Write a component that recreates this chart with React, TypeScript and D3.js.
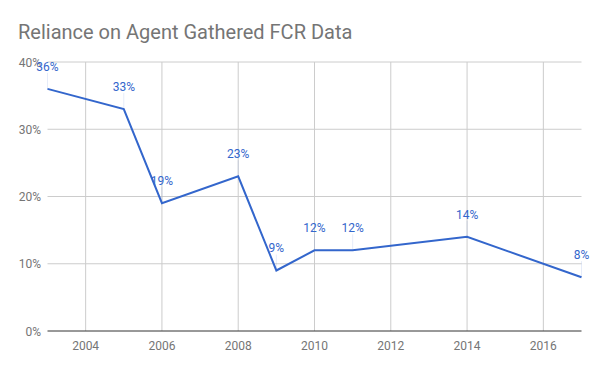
import React from "react";
import * as d3 from "d3";

const years = [2003, 2005, 2006, 2008, 2009, 2010, 2011, 2014, 2017];
const values = [36, 33, 19, 23, 9, 12, 12, 14, 8];
const xTicks = [2004, 2006, 2008, 2010, 2012, 2014, 2016];
const yTicks = [0, 10, 20, 30, 40];
const title = "Reliance on Agent Gathered FCR Data";

const W = 600;
const H = 371;
const font = "Roboto, 'Noto Sans', Arial, sans-serif";

export default function App() {
  const x = d3.scaleLinear().domain([2003, 2017]).range([47.5, 581.5]);
  const y = d3.scaleLinear().domain([0, 40]).range([331, 62]);
  const line = d3
    .line<number>()
    .x((_, i) => x(years[i]))
    .y((d) => y(d));

  return (
    <svg
      width={W}
      height={H}
      style={{ position: "absolute", left: 0, top: 0, background: "#fff" }}
      fontFamily={font}
    >
      <rect width={W} height={H} fill="#fff" />
      <text x={18} y={39} fontSize={20} fill="#757575">
        {title}
      </text>
      {yTicks.map((t) => (
        <g key={"y" + t}>
          {t !== 0 && (
            <line x1={x(2003)} x2={x(2017)} y1={y(t)} y2={y(t)} stroke="#cccccc" strokeWidth={1} />
          )}
          <text x={41} y={y(t) + 4.5} fontSize={12} fill="#757575" textAnchor="end">
            {t + "%"}
          </text>
        </g>
      ))}
      {xTicks.map((t) => (
        <g key={"x" + t}>
          <line x1={x(t)} x2={x(t)} y1={y(40)} y2={y(0)} stroke="#cccccc" strokeWidth={1} />
          <text x={x(t)} y={350} fontSize={12} fill="#757575" textAnchor="middle">
            {t}
          </text>
        </g>
      ))}
      <line x1={x(2003)} x2={x(2017)} y1={y(0)} y2={y(0)} stroke="#333333" strokeWidth={1} />
      {values.map((v, i) => (
        <line
          key={"l" + i}
          x1={x(years[i])}
          x2={x(years[i])}
          y1={y(v) - 16}
          y2={y(v)}
          stroke="#3366cc"
          strokeOpacity={0.12}
          strokeWidth={1}
        />
      ))}
      <path d={line(values) || ""} fill="none" stroke="#3366cc" strokeWidth={2} />
      {values.map((v, i) => (
        <text
          key={"t" + i}
          x={x(years[i])}
          y={y(v) - 18}
          fontSize={12}
          fill="#3366cc"
          textAnchor="middle"
        >
          {v + "%"}
        </text>
      ))}
    </svg>
  );
}
